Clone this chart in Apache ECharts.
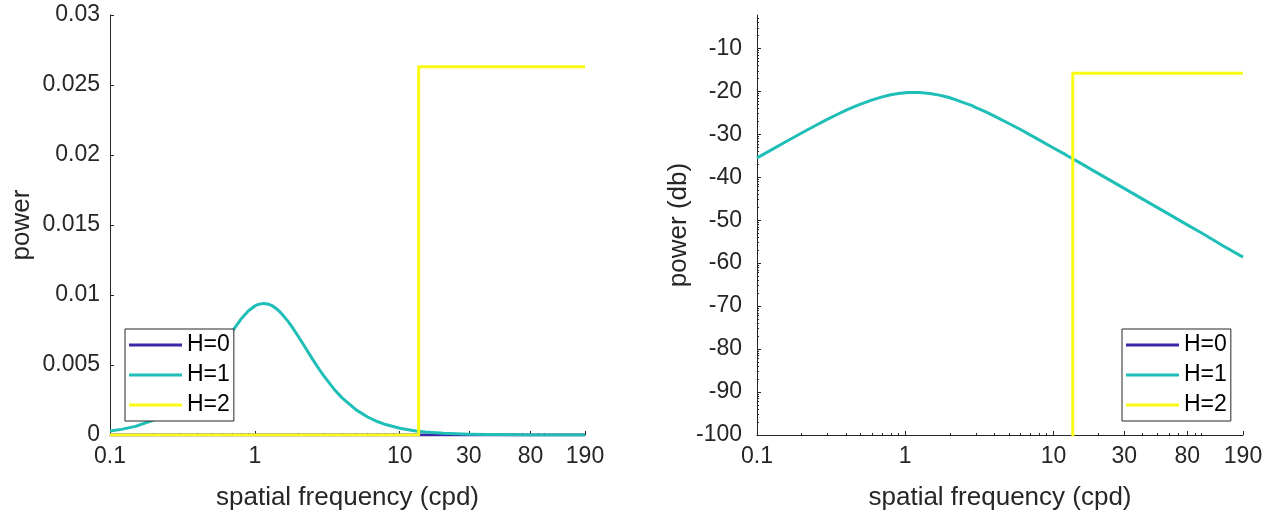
<!DOCTYPE html>
<html>
<head>
<meta charset="utf-8">
<script src="https://cdn.jsdelivr.net/npm/echarts@6/dist/echarts.min.js"></script>
<style>
  html, body { margin: 0; padding: 0; background: #ffffff; }
  #chart { width: 1276px; height: 521px; }
</style>
</head>
<body>
<div id="chart"></div>
<script>
// Spatial frequency samples (cycles per degree)
const freq = [0.1, 0.12, 0.15, 0.2, 0.25, 0.3, 0.35, 0.4, 0.45, 0.5, 0.6, 0.7, 0.8, 0.9, 1.0, 1.05, 1.15, 1.25, 1.3, 1.4, 1.5, 1.7, 1.8, 2, 2.2, 2.5, 2.8, 3, 3.5, 4, 5, 6, 7, 8, 10, 12, 13, 15, 20, 30, 40, 60, 80, 100, 140, 190];

// H=1 spectrum, linear power
const h1Power = [0.000280, 0.000401, 0.000618, 0.001071, 0.001620, 0.002243, 0.002917, 0.003620, 0.004330, 0.005027, 0.006324, 0.007417, 0.008263, 0.008857, 0.009218, 0.009322, 0.009400, 0.009335, 0.009260, 0.009045, 0.008766, 0.008098, 0.007739, 0.007021, 0.006337, 0.005420, 0.004644, 0.004200, 0.003307, 0.002651, 0.001794, 0.001285, 0.000962, 0.000746, 0.000484, 0.000339, 0.000290, 0.0002184, 0.0001235, 0.0000551, 0.0000310, 0.0000138, 0.0000078, 0.0000050, 0.0000025, 0.0000014];
// H=1 spectrum, decibels
const h1Db = [-35.5, -34.0, -32.1, -29.7, -27.9, -26.5, -25.35, -24.4, -23.65, -23.0, -22.0, -21.3, -20.8, -20.5, -20.35, -20.3, -20.27, -20.3, -20.33, -20.44, -20.6, -20.9, -21.1, -21.5, -22.0, -22.7, -23.3, -23.8, -24.8, -25.8, -27.5, -28.9, -30.2, -31.3, -33.2, -34.7, -35.4, -36.6, -39.1, -42.6, -45.1, -48.6, -51.1, -53.0, -56.0, -58.6];

// H=0 spectrum: zero power everywhere (far below the dB axis floor)
const h0Freq = [0.1, 190];
const h0Power = [0, 0];
const h0Db = [-300, -300];

// H=2 spectrum: zero below the cutoff, flat above it
const h2Freq = [0.1, 13.5, 13.5, 190];
const h2Power = [0, 0, 0.0263, 0.0263];
const h2Db = [-300, -300, -15.8, -15.8];

// Axis ticks and labels
const xTicks = [0.1, 1, 10, 30, 80, 190];
const xMinorTicks = [0.2, 0.3, 0.4, 0.5, 0.6, 0.7, 0.8, 0.9, 2, 3, 4, 5, 6, 7, 8, 9, 20, 40, 50, 60, 70, 90, 100];
const seriesNames = ['H=0', 'H=1', 'H=2'];
const colors = ['#3e26a8', '#1fbfb8', '#f9fb15'];

const FONT = 'Liberation Sans, Arial, Helvetica, sans-serif';
const INK = '#262626';
const AXIS_MIN_DB = -100;
const AXIS_MAX_DB = -2.25;

// Minor ticks for the dB axis: log-style subdivisions inside each 10 dB step
const yMinorTicks = [];
for (let base = AXIS_MIN_DB; base < AXIS_MAX_DB; base += 10) {
  for (let k = 2; k <= 9; k++) {
    const v = base + 10 * Math.log10(k);
    if (v < AXIS_MAX_DB) yMinorTicks.push(v);
  }
}

const zip = (xs, ys) => xs.map((x, i) => [x, ys[i]]);

function freqAxis(gridIndex) {
  return {
    type: 'log', logBase: 10, gridIndex, min: 0.1, max: 190, position: 'bottom',
    name: 'spatial frequency (cpd)', nameLocation: 'middle', nameGap: 50,
    nameTextStyle: { color: INK, fontSize: 26, fontFamily: FONT },
    axisLine: { show: true, lineStyle: { color: INK, width: 1 } },
    axisTick: { show: true, inside: true, length: 4, customValues: xTicks, lineStyle: { color: INK } },
    axisLabel: { show: true, customValues: xTicks, color: INK, fontSize: 23, fontFamily: FONT, margin: 10,
      formatter: v => String(+(+v).toPrecision(6)) },
    minorTick: { show: false },
    splitLine: { show: false }
  };
}
function freqMinorAxis(gridIndex) {
  return {
    type: 'log', logBase: 10, gridIndex, min: 0.1, max: 190, position: 'bottom', offset: 0,
    axisLine: { show: false },
    axisTick: { show: true, inside: true, length: 2, customValues: xMinorTicks, lineStyle: { color: INK } },
    axisLabel: { show: false },
    splitLine: { show: false }
  };
}

function legendFor(left, top) {
  return {
    left, top, orient: 'vertical',
    data: seriesNames.map(n => ({ name: n, icon: 'rect' })),
    itemWidth: 53, itemHeight: 3, itemGap: 6, itemTextGap: 4,
    padding: [4, 4, 4, 4],
    borderColor: INK, borderWidth: 1, backgroundColor: '#ffffff',
    textStyle: { color: '#000000', fontSize: 23, fontFamily: FONT, lineHeight: 24 },
    selectedMode: false
  };
}

function lineSeries(name, data, idx, xAxisIndex, yAxisIndex) {
  return {
    name, type: 'line', data, xAxisIndex, yAxisIndex,
    showSymbol: false, symbol: 'none', clip: true, smooth: false,
    lineStyle: { color: colors[idx], width: 3, join: 'round' }, itemStyle: { color: colors[idx] },
    animation: false, z: 2 + idx
  };
}

const chart = echarts.init(document.getElementById('chart'), null, { renderer: 'canvas' });
chart.setOption({
  animation: false,
  backgroundColor: '#ffffff',
  grid: [
    { left: 110, top: 15, width: 475, height: 420, containLabel: false },
    { left: 757, top: 15, width: 486, height: 420, containLabel: false }
  ],
  xAxis: [freqAxis(0), freqMinorAxis(0), freqAxis(1), freqMinorAxis(1)],
  yAxis: [
    {
      type: 'value', gridIndex: 0, min: 0, max: 0.03, interval: 0.005,
      name: 'power', nameLocation: 'middle', nameGap: 75,
      nameTextStyle: { color: INK, fontSize: 26, fontFamily: FONT },
      axisLine: { show: true, lineStyle: { color: INK, width: 1 } },
      axisTick: { show: true, inside: true, length: 4, lineStyle: { color: INK } },
      axisLabel: { color: INK, fontSize: 23, fontFamily: FONT, margin: 10,
        formatter: v => String(+(+v).toPrecision(6)) },
      splitLine: { show: false }
    },
    {
      type: 'value', gridIndex: 1, min: AXIS_MIN_DB, max: AXIS_MAX_DB, interval: 10,
      name: 'power (db)', nameLocation: 'middle', nameGap: 59,
      nameTextStyle: { color: INK, fontSize: 26, fontFamily: FONT },
      axisLine: { show: true, lineStyle: { color: INK, width: 1 } },
      axisTick: { show: true, inside: true, length: 4, lineStyle: { color: INK } },
      axisLabel: { color: INK, fontSize: 23, fontFamily: FONT, margin: 15, showMaxLabel: false },
      splitLine: { show: false }
    },
    {
      type: 'value', gridIndex: 1, min: AXIS_MIN_DB, max: AXIS_MAX_DB, position: 'left', offset: 0,
      axisLine: { show: false },
      axisTick: { show: true, inside: true, length: 2, customValues: yMinorTicks, lineStyle: { color: INK } },
      axisLabel: { show: false },
      splitLine: { show: false }
    }
  ],
  legend: [legendFor(125, 329), legendFor(1122, 329)],
  series: [
    lineSeries('H=0', zip(h0Freq, h0Power), 0, 0, 0),
    lineSeries('H=1', zip(freq, h1Power), 1, 0, 0),
    lineSeries('H=2', zip(h2Freq, h2Power), 2, 0, 0),
    lineSeries('H=0', zip(h0Freq, h0Db), 0, 2, 1),
    lineSeries('H=1', zip(freq, h1Db), 1, 2, 1),
    lineSeries('H=2', zip(h2Freq, h2Db), 2, 2, 1)
  ]
});
</script>
</body>
</html>
